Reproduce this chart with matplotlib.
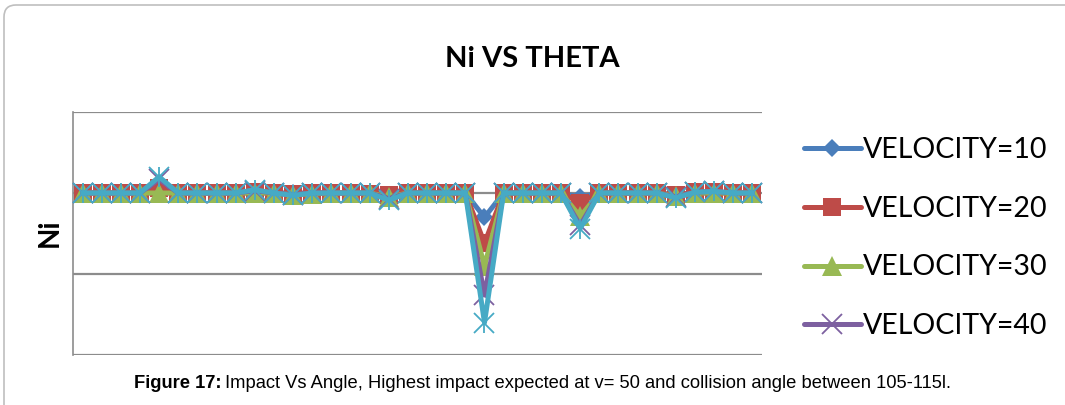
import matplotlib.pyplot as plt
from matplotlib.lines import Line2D
from matplotlib.patches import FancyBboxPatch
from matplotlib.transforms import IdentityTransform

# collision angle (deg) on the category axis
theta = list(range(5, 181, 5))

ni_v10 = [1.00, 1.00, 1.00, 1.00, 1.00, 1.00, 1.00, 1.00, 1.00, 1.00, 1.00, 1.00,
          1.00, 1.00, 1.00, 1.00, 0.99, 1.00, 1.00, 1.00, 1.00, 0.85, 1.00, 1.00,
          1.00, 1.00, 0.975, 1.00, 1.00, 1.00, 1.00, 0.99, 1.00, 1.00, 1.00, 1.00]
ni_v20 = [1.00, 1.00, 1.00, 1.00, 1.03, 1.00, 1.00, 1.00, 1.00, 1.005, 1.00, 0.995,
          1.00, 1.00, 1.00, 0.995, 0.985, 1.00, 1.00, 1.00, 1.00, 0.69, 1.00, 1.00,
          1.00, 1.00, 0.94, 1.00, 1.00, 1.00, 1.00, 0.985, 1.005, 1.005, 1.00, 1.00]
ni_v30 = [1.00, 1.00, 1.00, 1.00, 1.00, 1.00, 1.00, 1.00, 1.00, 1.00, 1.00, 0.99,
          0.995, 1.00, 1.00, 1.00, 0.975, 1.00, 1.00, 1.00, 1.00, 0.55, 1.00, 1.00,
          1.00, 1.00, 0.855, 1.00, 1.00, 1.00, 1.00, 0.98, 1.00, 1.00, 1.00, 1.00]
ni_v40 = [1.00, 1.00, 1.00, 1.00, 1.085, 1.00, 1.00, 1.00, 1.00, 1.015, 1.00, 0.99,
          1.00, 1.00, 1.00, 1.00, 0.965, 1.00, 1.00, 1.00, 1.00, 0.37, 1.00, 1.00,
          1.00, 1.00, 0.80, 1.00, 1.00, 1.00, 1.00, 0.975, 1.005, 1.01, 1.00, 1.00]
ni_v50 = [1.00, 1.00, 1.00, 1.00, 1.10, 1.00, 1.00, 1.00, 1.00, 1.02, 1.00, 0.985,
          1.00, 1.00, 1.00, 1.00, 0.955, 1.00, 1.00, 1.00, 1.00, 0.20, 1.00, 1.00,
          1.00, 1.00, 0.78, 1.00, 1.00, 1.00, 1.00, 0.97, 1.005, 1.01, 1.00, 1.00]

labels = ['VELOCITY=10', 'VELOCITY=20', 'VELOCITY=30', 'VELOCITY=40', 'VELOCITY=50']
colors = ['#4a7ebb', '#be4b48', '#98b954', '#7d60a0', '#46aac5']

plt.rcParams['font.family'] = ['Lato', 'DejaVu Sans']

fig = plt.figure(figsize=(10.65, 4.05), dpi=100)

# outer chart frame with rounded corners (pixel coords)
frame = FancyBboxPatch((4, -30), 1120, 430, boxstyle='round,pad=0,rounding_size=12',
                       transform=IdentityTransform(), facecolor='none',
                       edgecolor='#bfbfbf', linewidth=1.2)
fig.patches.append(frame)

ax = fig.add_axes([73 / 1065, 50 / 405, 689 / 1065, 243 / 405])
ax.set_xlim(2.5, 182.5)
ax.set_ylim(0, 1.5)
ax.set_yticks([0, 0.5, 1.0, 1.5])
ax.set_xticks([])
ax.tick_params(left=False, labelleft=False)
ax.grid(True, axis='y', color='#8c8c8c', linewidth=1.6)
ax.set_axisbelow(True)
for side in ['top', 'bottom', 'right']:
    ax.spines[side].set_visible(False)
ax.spines['left'].set_color('#8c8c8c')
ax.spines['left'].set_linewidth(1.2)

series = [ni_v10, ni_v20, ni_v30, ni_v40, ni_v50]
styles = [dict(marker='D', ms=9.5, mew=0),
          dict(marker='s', ms=13, mew=0),
          dict(marker='^', ms=14, mew=0),
          dict(marker='x', ms=14, mew=1.3),
          dict(marker='x', ms=14, mew=1.3)]

handles = []
for i, (vals, col, st) in enumerate(zip(series, colors, styles)):
    h, = ax.plot(theta, vals, color=col, lw=3.6, solid_capstyle='round',
                 solid_joinstyle='round', zorder=3 + i, clip_on=False,
                 label=labels[i], **st)
    handles.append(h)
# star marker for the last series: x plus a vertical stroke
ax.plot(theta, ni_v50, linestyle='None', marker='|', ms=14, mew=1.3,
        color=colors[4], zorder=8, clip_on=False)

fig.legend(handles[:4], labels[:4], loc='upper left',
           bbox_to_anchor=(804 / 1065, 1 - 137 / 405), frameon=False,
           fontsize=20.5, handlelength=2.0, handletextpad=0.08, labelspacing=1.15,
           borderaxespad=0, borderpad=0)

fig.text(532 / 1065, 1 - 59 / 405, 'Ni VS THETA', ha='center', va='center',
         fontsize=21, fontweight='bold')
fig.text(50 / 1065, 1 - 233 / 405, 'Ni', ha='center', va='center', rotation=90,
         fontsize=20, fontweight='bold')

cap_y = 1 - 383 / 405
t1 = fig.text(134 / 1065, cap_y, 'Figure 17:', ha='left', va='center',
              fontsize=13.2, fontweight='bold', family='Liberation Sans')
fig.canvas.draw()
bb = t1.get_window_extent()
fig.text((bb.x1 + 4) / 1065, cap_y,
         'Impact Vs Angle, Highest impact expected at v= 50 and collision angle between 105-115l.',
         ha='left', va='center', fontsize=13.2, family='Liberation Sans')

fig.savefig('out.png', dpi=100)
